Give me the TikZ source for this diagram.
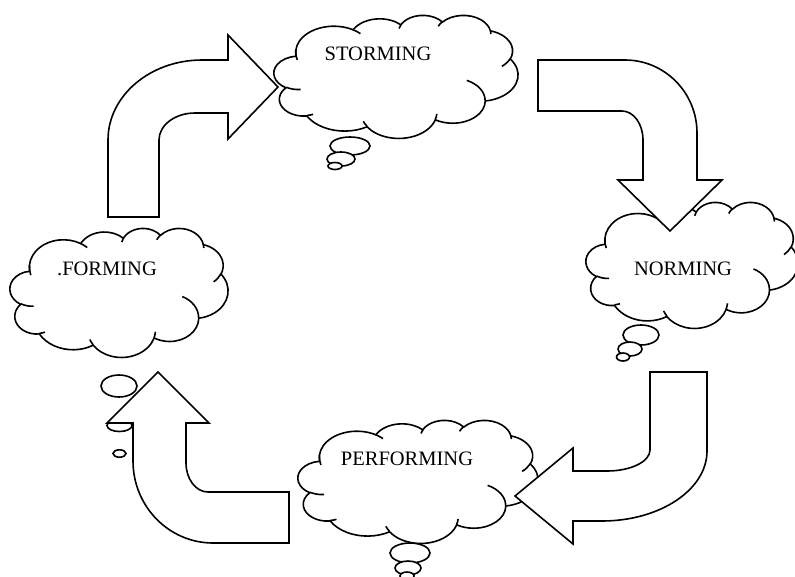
\documentclass[tikz,border=0pt]{standalone}
\usepackage{fontspec}
\setmainfont{Liberation Serif}

% start angle / sweep of an elliptic arc, converted from a visual angle
% to the parametric angle that TikZ expects
\newcommand\setarc[6]{%
  \pgfmathsetmacro\tmpS{atan2((#3)*sin(#5),(#4)*cos(#5))}%
  \pgfmathsetmacro\tmpE{atan2((#3)*sin((#5)+(#6)),(#4)*cos((#5)+(#6)))}%
  \pgfmathsetmacro\tmpD{\tmpE-\tmpS}%
  \pgfmathsetmacro\tmpD{\tmpD+360*round(((#6)-\tmpD)/360)}%
  \xdef#1{\tmpS}\xdef#2{\tmpD}}

% outline of the cloud (43.2 x 43.2 design box)
\setarc\cSa\cDa{6.753}{9.190}{-190.4875}{123.7805}
\setarc\cSb\cDb{5.333}{7.267}{-144.1024}{89.9452}
\setarc\cSc\cDc{4.365}{5.945}{-145.8079}{99.7230}
\setarc\cSd\cDd{4.857}{6.595}{-130.9861}{117.2417}
\setarc\cSe\cDe{5.333}{7.273}{-78.7089}{109.0269}
\setarc\cSf\cDf{6.775}{9.220}{-46.2673}{130.2690}
\setarc\cSg\cDg{5.785}{7.867}{0.6250}{114.0333}
\setarc\cSh\cDh{6.752}{9.215}{22.4516}{115.1726}
\setarc\cSi\cDi{7.720}{10.543}{66.2426}{75.7110}
\setarc\cSj\cDj{4.360}{5.918}{-274.9421}{146.7356}
\setarc\cSk\cDk{4.345}{5.945}{-246.8285}{152.5213}
% inner creases
\setarc\kSa\kDa{4.345}{5.945}{86.7420}{26.4295}
\setarc\kSb\kDb{4.360}{5.918}{73.6105}{11.4475}
\setarc\kSc\kDc{6.752}{9.215}{137.6242}{14.0811}
\setarc\kSd\kDd{6.752}{9.215}{6.4533}{15.9984}
\setarc\kSe\kDe{5.785}{7.867}{-70.2924}{70.9174}
\setarc\kSf\kDf{5.333}{7.273}{30.3180}{27.7515}
\setarc\kSg\kDg{4.857}{6.595}{-13.7443}{14.8589}
\setarc\kSh\kDh{4.857}{6.595}{-149.1815}{18.1954}
\setarc\kSi\kDi{4.365}{5.945}{-163.4943}{17.6864}
\setarc\kSj\kDj{6.753}{9.190}{-66.7070}{12.3194}
\setarc\kSk\kDk{6.753}{9.190}{157.1542}{29.0769}

\tikzset{
  outline/.style={draw=black, line width=1.6, line join=miter, fill=white},
  crease/.style={draw=black, line width=1.6},
  bubble/.style={draw=black, line width=1.6, fill=white},
  label/.style={inner sep=0pt, font=\fontsize{20.5}{24}\selectfont}
}

% cloud in the box with top-left corner (#1,#2), width #3, height #4
\newcommand\drawcloud[4]{%
  \pgfmathsetmacro\cloudsx{#3/43.2}%
  \pgfmathsetmacro\cloudsy{#4/43.2}%
  \begin{scope}[shift={(#1,#2)}, xscale=\cloudsx, yscale=\cloudsy]
    \path[outline] (3.900,14.370)
      arc[start angle=\cSa, delta angle=\cDa, x radius=6.753, y radius=9.190]
      arc[start angle=\cSb, delta angle=\cDb, x radius=5.333, y radius=7.267]
      arc[start angle=\cSc, delta angle=\cDc, x radius=4.365, y radius=5.945]
      arc[start angle=\cSd, delta angle=\cDd, x radius=4.857, y radius=6.595]
      arc[start angle=\cSe, delta angle=\cDe, x radius=5.333, y radius=7.273]
      arc[start angle=\cSf, delta angle=\cDf, x radius=6.775, y radius=9.220]
      arc[start angle=\cSg, delta angle=\cDg, x radius=5.785, y radius=7.867]
      arc[start angle=\cSh, delta angle=\cDh, x radius=6.752, y radius=9.215]
      arc[start angle=\cSi, delta angle=\cDi, x radius=7.720, y radius=10.543]
      arc[start angle=\cSj, delta angle=\cDj, x radius=4.360, y radius=5.918]
      arc[start angle=\cSk, delta angle=\cDk, x radius=4.345, y radius=5.945]
      -- cycle;
    \path[crease]
      (4.693,26.177) arc[start angle=\kSa, delta angle=\kDa, x radius=4.345, y radius=5.945]
      (6.928,34.899) arc[start angle=\kSb, delta angle=\kDb, x radius=4.360, y radius=5.918]
      (16.478,39.090) arc[start angle=\kSc, delta angle=\kDc, x radius=6.752, y radius=9.215]
      (28.827,34.751) arc[start angle=\kSd, delta angle=\kDd, x radius=6.752, y radius=9.215]
      (34.129,22.954) arc[start angle=\kSe, delta angle=\kDe, x radius=5.785, y radius=7.867]
      (41.798,15.354) arc[start angle=\kSf, delta angle=\kDf, x radius=5.333, y radius=7.273]
      (38.324,5.426) arc[start angle=\kSg, delta angle=\kDg, x radius=4.857, y radius=6.595]
      (29.078,3.952) arc[start angle=\kSh, delta angle=\kDh, x radius=4.857, y radius=6.595]
      (22.141,4.720) arc[start angle=\kSi, delta angle=\kDi, x radius=4.365, y radius=5.945]
      (14.000,5.192) arc[start angle=\kSj, delta angle=\kDj, x radius=6.753, y radius=9.190]
      (4.127,15.789) arc[start angle=\kSk, delta angle=\kDk, x radius=6.753, y radius=9.190];
  \end{scope}}

\begin{document}
\begin{tikzpicture}[x=1pt, y=1pt, yscale=-1]
  \useasboundingbox (0,0) rectangle (795,576);
  \fill[white] (0,0) rectangle (795,576);

  % thought bubbles under each cloud
  \path[bubble] (350,146) ellipse [x radius=20, y radius=9];
  \path[bubble] (341,159) ellipse [x radius=14, y radius=7];
  \path[bubble] (335,166) ellipse [x radius=7, y radius=3.5];

  \path[bubble] (641,335) ellipse [x radius=18, y radius=10];
  \path[bubble] (630,349) ellipse [x radius=12, y radius=7];
  \path[bubble] (623,357) ellipse [x radius=6.5, y radius=4];

  \path[bubble] (410,553) ellipse [x radius=20, y radius=10];
  \path[bubble] (408,568) ellipse [x radius=13, y radius=7];
  \path[bubble] (407,576) ellipse [x radius=7, y radius=4];

  \path[bubble] (119,386) ellipse [x radius=18, y radius=11];
  \path[bubble] (119.5,425.5) ellipse [x radius=12.5, y radius=6];
  \path[bubble] (119.5,453.5) ellipse [x radius=6.5, y radius=3.7];

  % clouds
  \drawcloud{274}{15}{244}{123}
  \drawcloud{586}{202}{212}{126}
  \drawcloud{10}{228}{218}{129}
  \drawcloud{298}{420}{240}{123}

  % bent block arrows
  \path[outline] (108,217) -- (108,140)
    arc[start angle=180, end angle=270, x radius=94, y radius=80]
    -- (228,60) -- (228,35) -- (278,87) -- (228,139) -- (228,113) -- (195,113)
    arc[start angle=270, end angle=180, x radius=36, y radius=27]
    -- (159,217) -- cycle;

  \path[outline] (538,60) -- (625,60)
    arc[start angle=270, end angle=360, x radius=72, y radius=73]
    -- (697,180) -- (722,180) -- (670,231) -- (618,180) -- (643,180) -- (643,140)
    arc[start angle=0, end angle=-90, x radius=21, y radius=29]
    -- (538,111) -- cycle;

  \path[outline] (650,372) -- (707,372) -- (707,451)
    arc[start angle=0, end angle=90, x radius=105, y radius=70]
    -- (573,521) -- (573,544) -- (515,496) -- (573,448) -- (573,471) -- (607,471)
    arc[start angle=90, end angle=0, x radius=43, y radius=21]
    -- cycle;

  \path[outline] (289,492) -- (289,543) -- (213,543)
    arc[start angle=90, end angle=180, x radius=80, y radius=82]
    -- (133,423) -- (107,423) -- (158,372) -- (209,423) -- (186,423) -- (186,463)
    arc[start angle=180, end angle=90, x radius=22, y radius=29]
    -- cycle;

  % stage names
  \node[label] (storming) at (378,53.5) {STORMING};
  \node[label] (norming) at (683,268.5) {NORMING};
  \node[label] (forming) at (107,268.5) {.FORMING};
  \node[label] (performing) at (407,459) {PERFORMING};
\end{tikzpicture}
\end{document}
